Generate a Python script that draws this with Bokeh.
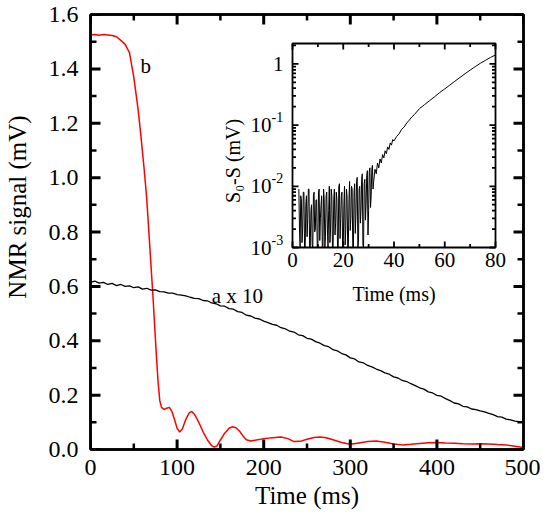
from math import pi, log10
import numpy as np
from bokeh.plotting import figure
from bokeh.models import (Range1d, LinearAxis, LogScale, SingleIntervalTicker,
                          NumeralTickFormatter, CustomJSTickFormatter, Label)
from bokeh.core.properties import value
from bokeh.embed import file_html
from bokeh.resources import INLINE

FONT = "Liberation Serif"

# ---------------- data ----------------
# curve b (red)
b_time = [0, 5, 10, 15, 20, 25, 30, 35, 40, 45, 50, 55, 58, 62, 65, 68, 70, 72, 74, 76,
          78, 80, 82, 85, 88, 91, 94, 97, 100, 103, 106, 110, 114, 117, 120, 125, 130, 135,
          140, 143, 146, 150, 155, 160, 164, 168, 172, 176, 180, 185, 190, 200, 210, 220,
          228, 235, 242, 250, 258, 265, 272, 280, 290, 300, 310, 320, 330, 340, 350, 360,
          370, 380, 390, 400, 410, 420, 430, 440, 450, 460, 470, 480, 490, 500]
b_signal = [1.525, 1.526, 1.524, 1.526, 1.525, 1.523, 1.518, 1.505, 1.49, 1.46, 1.37, 1.25,
            1.16, 1.03, 0.92, 0.77, 0.67, 0.57, 0.46, 0.35, 0.25, 0.18, 0.155, 0.147, 0.152,
            0.155, 0.14, 0.11, 0.078, 0.064, 0.075, 0.11, 0.135, 0.14, 0.13, 0.1, 0.065,
            0.035, 0.014, 0.009, 0.013, 0.035, 0.06, 0.078, 0.084, 0.08, 0.068, 0.05, 0.036,
            0.031, 0.034, 0.04, 0.043, 0.046, 0.04, 0.029, 0.03, 0.038, 0.044, 0.046, 0.043,
            0.036, 0.026, 0.019, 0.024, 0.029, 0.031, 0.027, 0.02, 0.017, 0.019, 0.022, 0.025,
            0.026, 0.024, 0.023, 0.021, 0.02, 0.021, 0.02, 0.018, 0.017, 0.012, 0.007]

# curve a x 10 (black)
a_time = list(range(0, 501, 5))
a_signal = [0.615, 0.619, 0.612, 0.615, 0.607, 0.611, 0.603, 0.607, 0.600, 0.602, 0.595,
            0.598, 0.590, 0.593, 0.586, 0.587, 0.581, 0.580, 0.575, 0.575, 0.570, 0.568,
            0.565, 0.560, 0.556, 0.555, 0.548, 0.547, 0.539, 0.536, 0.528, 0.527, 0.518,
            0.516, 0.507, 0.504, 0.494, 0.491, 0.483, 0.480, 0.472, 0.467, 0.460, 0.457,
            0.448, 0.444, 0.435, 0.432, 0.422, 0.419, 0.409, 0.406, 0.397, 0.391, 0.382,
            0.378, 0.367, 0.363, 0.353, 0.348, 0.337, 0.333, 0.322, 0.319, 0.309, 0.304,
            0.296, 0.290, 0.282, 0.277, 0.267, 0.263, 0.254, 0.250, 0.242, 0.235, 0.227,
            0.222, 0.212, 0.208, 0.199, 0.196, 0.187, 0.180, 0.171, 0.168, 0.159, 0.157,
            0.149, 0.147, 0.142, 0.138, 0.133, 0.128, 0.121, 0.119, 0.112, 0.109, 0.104,
            0.102, 0.099]

# inset: S0 - S (mV) on a log scale
noise_time = [2.5 + 0.25 * i for i in range(118)]
noise_diff = [0.009, 0.002, 0.0006, 0.007, 0.006, 0.0012, 0.002, 0.008, 0.008, 0.0009,
              0.0005, 0.005, 0.007, 0.0015, 0.003, 0.009, 0.009, 0.0007, 0.0008, 0.004,
              0.005, 0.0011, 0.0004, 0.007, 0.008, 0.0018, 0.002, 0.006, 0.006, 0.0005,
              0.0007, 0.008, 0.009, 0.0013, 0.003, 0.005, 0.007, 0.0006, 0.0005, 0.009,
              0.006, 0.0009, 0.0015, 0.007, 0.008, 0.002, 0.0006, 0.004, 0.010, 0.0012,
              0.002, 0.009, 0.007, 0.0007, 0.0004, 0.006, 0.009, 0.0016, 0.0025, 0.008,
              0.006, 0.0005, 0.0008, 0.010, 0.011, 0.0014, 0.003, 0.007, 0.008, 0.0008,
              0.0006, 0.005, 0.010, 0.0011, 0.002, 0.009, 0.007, 0.0006, 0.0009, 0.006,
              0.012, 0.0019, 0.003, 0.010, 0.009, 0.0007, 0.0005, 0.008, 0.011, 0.0017,
              0.0035, 0.012, 0.014, 0.0009, 0.0012, 0.009, 0.010, 0.0025, 0.004, 0.013,
              0.016, 0.0011, 0.0008, 0.011, 0.013, 0.0028, 0.005, 0.015, 0.018, 0.0016,
              0.004, 0.017, 0.020, 0.0045, 0.007, 0.019, 0.022, 0.009]
rise_time = [32.0, 32.5, 33.0, 33.5, 34.0, 34.5, 35.0, 35.5, 36.0, 36.5, 37.0, 37.5, 38.0,
             38.5, 39.0, 39.5, 40.0, 41.0, 42.0, 43.0, 44.0, 45.0, 46.0, 47.0, 48.0, 50.0,
             52.0, 54.0, 56.0, 58.0, 60.0, 62.0, 64.0, 66.0, 68.0, 70.0, 72.0, 74.0, 76.0,
             78.0, 80.0]
rise_diff = [0.012, 0.019, 0.016, 0.024, 0.020, 0.028, 0.024, 0.033, 0.029, 0.038, 0.034,
             0.044, 0.040, 0.051, 0.047, 0.058, 0.055, 0.065, 0.072, 0.085, 0.093, 0.108,
             0.120, 0.135, 0.148, 0.185, 0.215, 0.25, 0.29, 0.34, 0.39, 0.45, 0.52, 0.60,
             0.69, 0.79, 0.90, 1.02, 1.14, 1.27, 1.40]
inset_time = noise_time + rise_time
inset_diff = noise_diff + rise_diff

# ranges and ticks
main_x_range = (0, 500)
main_y_range = (0, 1.6)
main_x_major = [0, 100, 200, 300, 400, 500]
main_x_minor = [50, 150, 250, 350, 450]
main_y_major = [0.0, 0.2, 0.4, 0.6, 0.8, 1.0, 1.2, 1.4, 1.6]
main_y_minor = [0.1, 0.3, 0.5, 0.7, 0.9, 1.1, 1.3, 1.5]

inset_x_range = (0, 80)
inset_y_range = (1e-3, 2.15)
inset_x_major = [0, 20, 40, 60, 80]
inset_x_minor = [10, 30, 50, 70]
inset_x_labels = ["0", "20", "40", "60", "80"]
inset_y_major = [1e-3, 1e-2, 1e-1, 1.0]
inset_y_base = ["10", "10", "10", "1"]
inset_y_exp = ["-3", "-2", "-1", ""]
inset_y_minor = [m * 10.0 ** e for e in range(-3, 1) for m in range(2, 10)
                 if m * 10.0 ** e < 2.15]

# annotation texts and positions (data units)
label_b = ("b", 57.7, 1.41)
label_a = ("a x 10", 140.0, 0.564)
inset_xlabel = "Time (ms)"
inset_ylabel = "S\u2080-S (mV)"
inset_ylabel_at = 0.026

# ---------------- geometry (pixels) ----------------
W, H = 540, 520
F_LEFT, F_TOP, F_W, F_H = 90, 14, 433, 435          # main frame
I_LEFT, I_TOP, I_W, I_H = 292, 43, 203, 204         # inset frame on the page

# extra ranges that put the inset's data box at its place inside the main frame
ms_px = (inset_x_range[1] - inset_x_range[0]) / I_W
ix_start = inset_x_range[0] - (I_LEFT - F_LEFT) * ms_px
ix_end = inset_x_range[1] + (F_LEFT + F_W - I_LEFT - I_W) * ms_px
dec_px = log10(inset_y_range[1] / inset_y_range[0]) / I_H
iy_end = inset_y_range[1] * 10 ** ((I_TOP - F_TOP) * dec_px)
iy_start = inset_y_range[0] / 10 ** ((F_TOP + F_H - I_TOP - I_H) * dec_px)

p = figure(width=W, height=H, output_backend="svg", toolbar_location=None,
           x_range=Range1d(*main_x_range), y_range=Range1d(*main_y_range),
           min_border_left=F_LEFT, min_border_right=W - F_LEFT - F_W,
           min_border_top=F_TOP, min_border_bottom=H - F_TOP - F_H)
p.extra_x_ranges = {"ix": Range1d(ix_start, ix_end)}
p.extra_y_ranges = {"iy": Range1d(iy_start, iy_end)}
p.extra_y_scales = {"iy": LogScale()}
p.xgrid.visible = False
p.ygrid.visible = False
p.outline_line_color = "black"
p.outline_line_width = 2.5


def style_axis(ax, size, standoff, labels=True):
    ax.major_tick_in = 0
    ax.major_tick_out = 0
    ax.minor_tick_in = 0
    ax.minor_tick_out = 0
    ax.major_tick_line_color = None
    ax.minor_tick_line_color = None
    ax.axis_line_color = "black"
    ax.axis_line_width = 2.5
    ax.major_label_text_font = FONT
    ax.major_label_text_color = "black"
    ax.axis_label_text_font = FONT
    ax.axis_label_text_font_style = "normal"
    ax.axis_label_text_color = "black"
    if labels:
        ax.major_label_text_font_size = size
        ax.major_label_standoff = standoff
    else:
        ax.major_label_text_font_size = "0px"
        ax.major_label_standoff = 0
        ax.formatter = CustomJSTickFormatter(code="return ''")


xb = p.xaxis[0]
xb.ticker = SingleIntervalTicker(interval=100, num_minor_ticks=2)
style_axis(xb, "24px", 10)
xb.axis_label = "Time (ms)"
xb.axis_label_text_font_size = "25px"
xb.axis_label_standoff = 4

yl = p.yaxis[0]
yl.ticker = SingleIntervalTicker(interval=0.2, num_minor_ticks=2)
yl.formatter = NumeralTickFormatter(format="0.0")
style_axis(yl, "24px", 12)
yl.axis_label = "\u2003\u2003NMR signal (mV)"
yl.axis_label_text_font_size = "25px"
yl.axis_label_standoff = 15

xt = LinearAxis(ticker=SingleIntervalTicker(interval=100, num_minor_ticks=2))
style_axis(xt, "0px", 0, labels=False)
p.add_layout(xt, "above")
yr = LinearAxis(ticker=SingleIntervalTicker(interval=0.2, num_minor_ticks=2))
style_axis(yr, "0px", 0, labels=False)
p.add_layout(yr, "right")

# main curves
p.line(b_time, b_signal, line_color="#ff0000", line_width=1.5)
p.line(a_time, a_signal, line_color="black", line_width=1.3)

# inward ticks of the main frame as dash markers, centred half a tick inside the edge
dx = (main_x_range[1] - main_x_range[0]) / F_W
dy = (main_y_range[1] - main_y_range[0]) / F_H
for xs, ln, lw in ((main_x_major, 10, 3), (main_x_minor, 6, 2.5)):
    n = len(xs)
    p.scatter(xs + xs,
              [main_y_range[0] + ln / 2 * dy] * n + [main_y_range[1] - ln / 2 * dy] * n,
              marker="dash", size=ln, angle=pi / 2, line_color="black", line_width=lw)
for ys, ln, lw in ((main_y_major, 10, 3), (main_y_minor, 6, 2.5)):
    n = len(ys)
    p.scatter([main_x_range[0] + ln / 2 * dx] * n + [main_x_range[1] - ln / 2 * dx] * n,
              ys + ys, marker="dash", size=ln, angle=0, line_color="black", line_width=lw)

for txt, x, y in (label_b, label_a):
    p.add_layout(Label(x=x, y=y, text=txt, text_font=FONT, text_font_size="21px",
                       text_color="black", text_align="left", text_baseline="alphabetic"))

# ---------------- inset (drawn on the extra ranges) ----------------
IR = dict(x_range_name="ix", y_range_name="iy")
x0, x1 = inset_x_range
y0, y1 = inset_y_range

# curve; values below the inset's floor are held at the floor, as the frame cuts them
p.line(inset_time, np.clip(inset_diff, y0, None), line_color="black", line_width=1, **IR)

# inward ticks of the inset as dash markers
for xs, ln in ((inset_x_major, 6), (inset_x_minor, 3.5)):
    n = len(xs)
    f = 10 ** (ln / 2 * dec_px)
    p.scatter(xs + xs, [y0 * f] * n + [y1 / f] * n, marker="dash", size=ln,
              angle=pi / 2, line_color="black", line_width=1.8, **IR)
for ys, ln in ((inset_y_major, 6), (inset_y_minor, 3.5)):
    n = len(ys)
    p.scatter([x0 + ln / 2 * ms_px] * n + [x1 - ln / 2 * ms_px] * n, ys + ys,
              marker="dash", size=ln, angle=0, line_color="black", line_width=1.8, **IR)

# frame
p.quad(left=[x0], right=[x1], bottom=[y0], top=[y1], fill_color=None,
       line_color="black", line_width=1.8, **IR)

TF = value(FONT)
# tick labels
p.text(x=inset_x_major, y=[y0] * len(inset_x_major), text=inset_x_labels,
       text_font=TF, text_font_size=value("21px"), text_color="black",
       text_align="center", text_baseline="top", y_offset=5, **IR)
EXP_W = 12
p.text(x=[x0] * len(inset_y_major), y=inset_y_major, text=inset_y_base,
       text_font=TF, text_font_size=value("21px"), text_color="black",
       text_align="right", text_baseline="middle",
       x_offset=[-9 - (EXP_W if e else 0) for e in inset_y_exp], **IR)
p.text(x=[x0] * len(inset_y_major), y=inset_y_major, text=inset_y_exp,
       text_font=TF, text_font_size=value("14px"), text_color="black",
       text_align="left", text_baseline="middle", x_offset=-9 - EXP_W, y_offset=-8, **IR)

# axis titles of the inset
p.text(x=[(x0 + x1) / 2], y=[y0], text=[inset_xlabel], text_font=TF,
       text_font_size=value("20px"), text_color="black", text_align="center",
       text_baseline="top", y_offset=35, **IR)
p.text(x=[x0], y=[inset_ylabel_at], text=[inset_ylabel], text_font=TF,
       text_font_size=value("20px"), text_color="black", text_align="center",
       text_baseline="middle", angle=pi / 2, x_offset=-60, **IR)

open("out.html", "w").write(file_html(p, INLINE))
